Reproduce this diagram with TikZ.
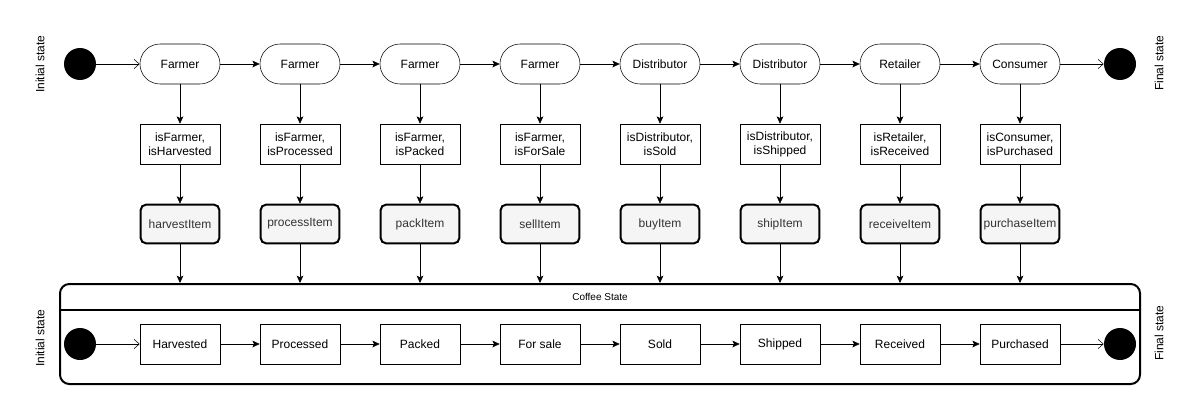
\documentclass[tikz,border=0pt]{standalone}
\usepackage{fontspec}
\setmainfont{Liberation Sans}
\usetikzlibrary{arrows.meta}

\begin{document}
\begin{tikzpicture}[x=0.75pt,y=-0.75pt,
  role/.style={draw, rounded corners=15pt, minimum width=60pt, minimum height=30pt, inner sep=0pt, font=\fontsize{9}{10.5}\selectfont},
  guardbox/.style={draw, minimum width=60pt, minimum height=30pt, inner sep=0pt, align=center, font=\fontsize{9}{10.5}\selectfont},
  fnbox/.style={draw, line width=1.5pt, rounded corners=4pt, fill=black!4, text=black!80, minimum width=59pt, minimum height=29pt, inner sep=0pt, font=\fontsize{9}{10.5}\selectfont},
  statebox/.style={draw, minimum width=60pt, minimum height=30pt, inner sep=0pt, font=\fontsize{9}{10.5}\selectfont},
  dot/.style={circle, fill=black, minimum size=24pt, inner sep=0pt},
  sidelabel/.style={rotate=90, font=\fontsize{9}{10.5}\selectfont},
  flow/.style={-{Stealth[length=5.5pt,width=5pt,inset=1.2pt]}},
  openflow/.style={-{Straight Barb[length=4pt,width=7pt]}}]
  \useasboundingbox (0,0) rectangle (1200,410);

  % Container for the coffee states
  \node[draw, line width=1.5pt, rounded corners=7pt, minimum width=810pt, minimum height=75pt, inner sep=0pt] (coffee) at (600,334) {};
  \draw[line width=1.2pt] (coffee.north west |- 0,310) -- (coffee.north east |- 0,310);
  \node[font=\fontsize{7.5}{9}\selectfont] (coffeetitle) at (600,297) {Coffee State};

  % Start and end dots
  \node[dot] (start) at (80,64) {};
  \node[dot] (stop) at (1120,64) {};
  \node[dot] (cstart) at (80,344) {};
  \node[dot] (cstop) at (1120,344) {};

  % Side labels
  \node[sidelabel] (initlbl) at (40,64) {Initial state};
  \node[sidelabel] (finallbl) at (1159,63) {Final state};
  \node[sidelabel] (cinitlbl) at (40,338) {Initial state};
  \node[sidelabel] (cfinallbl) at (1159,333) {Final state};

  % Columns
  \foreach \i/\role/\guard/\fn/\st in {
      1/Farmer/{isFarmer,\\isHarvested}/harvestItem/Harvested,
      2/Farmer/{isFarmer,\\isProcessed}/processItem/Processed,
      3/Farmer/{isFarmer,\\isPacked}/packItem/Packed,
      4/Farmer/{isFarmer,\\isForSale}/sellItem/For sale,
      5/Distributor/{isDistributor,\\isSold}/buyItem/Sold,
      6/Distributor/{isDistributor,\\isShipped}/shipItem/Shipped,
      7/Retailer/{isRetailer,\\isReceived}/receiveItem/Received,
      8/Consumer/{isConsumer,\\isPurchased}/purchaseItem/Purchased} {
    \node[role] (role\i) at (60+120*\i,64) {\role};
    \node[guardbox] (guard\i) at (60+120*\i,144) {\guard};
    \node[fnbox] (fn\i) at (60+120*\i,224) {\fn};
    \node[statebox] (st\i) at (60+120*\i,344) {\st};
    \draw[flow] (role\i) -- (guard\i);
    \draw[flow] (guard\i) -- (fn\i);
    \draw[flow] (fn\i) -- (fn\i |- coffee.north);
  }

  % Horizontal flow
  \foreach \i [count=\j from 2] in {1,...,7} {
    \draw[flow] (role\i) -- (role\j);
    \draw[flow] (st\i) -- (st\j);
  }
  \draw[openflow] (start) -- (role1);
  \draw[openflow] (role8) -- (stop);
  \draw[openflow] (cstart) -- (st1);
  \draw[openflow] (st8) -- (cstop);

\end{tikzpicture}
\end{document}
